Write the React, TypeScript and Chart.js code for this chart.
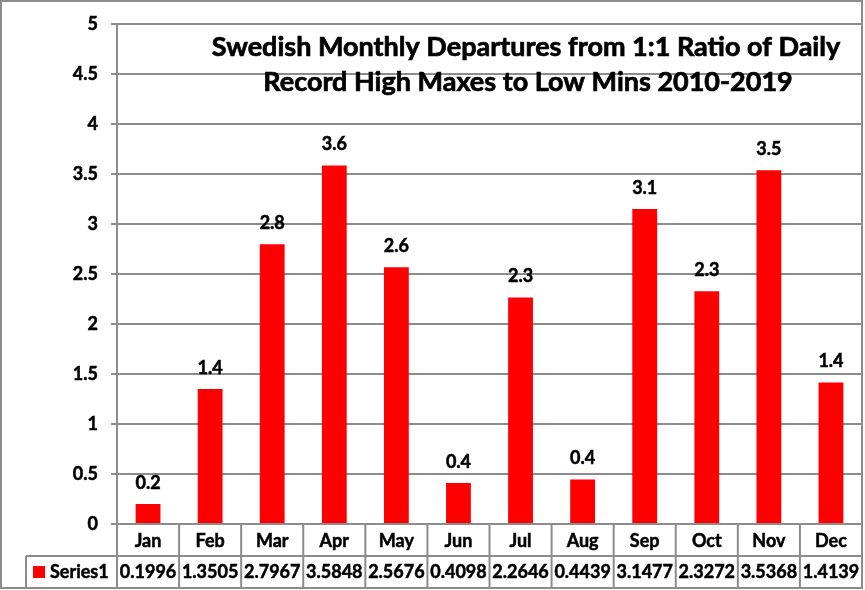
import { useEffect, useRef } from "react";
import { Chart, registerables } from "chart.js";

Chart.register(...registerables);

const months = ["Jan", "Feb", "Mar", "Apr", "May", "Jun", "Jul", "Aug", "Sep", "Oct", "Nov", "Dec"];
const departures = [0.1996, 1.3505, 2.7967, 3.5848, 2.5676, 0.4098, 2.2646, 0.4439, 3.1477, 2.3272, 3.5368, 1.4139];
const seriesName = "Series1";
const titleLines = [
  "Swedish Monthly Departures from 1:1 Ratio of Daily",
  "Record High Maxes to Low Mins 2010-2019",
];

const FONT = "Lato, 'Open Sans', sans-serif";
const GRID = "#8c8c8c";
const BAR = "#ff0000";
const TXT = 18;

// lato bold is a bit thin next to calibri bold, so thicken with a hairline stroke
function boldText(ctx: CanvasRenderingContext2D, s: string, x: number, y: number, w = 0.5) {
  ctx.lineWidth = w;
  ctx.strokeStyle = ctx.fillStyle as string;
  ctx.strokeText(s, x, y);
  ctx.fillText(s, x, y);
}

// value labels above each bar, rounded to one decimal
const barLabels = {
  id: "barLabels",
  afterDatasetsDraw(chart: any) {
    const { ctx } = chart;
    const meta = chart.getDatasetMeta(0);
    ctx.save();
    ctx.font = `bold ${TXT}px ${FONT}`;
    ctx.fillStyle = "#000";
    ctx.textAlign = "center";
    ctx.textBaseline = "middle";
    meta.data.forEach((bar: any, i: number) => {
      boldText(ctx, departures[i].toFixed(1), bar.x, bar.y - 21);
    });
    ctx.restore();
  },
};

// title sits inside the plot area, like the excel original
const insideTitle = {
  id: "insideTitle",
  afterDraw(chart: any) {
    const { ctx } = chart;
    ctx.save();
    ctx.font = `bold 27px ${FONT}`;
    ctx.fillStyle = "#000";
    ctx.textAlign = "center";
    ctx.textBaseline = "alphabetic";
    boldText(ctx, titleLines[0], 526, 56, 0.7);
    boldText(ctx, titleLines[1], 528, 91, 0.7);
    ctx.restore();
  },
};

// data table under the x axis + outer border
const dataTable = {
  id: "dataTable",
  afterDraw(chart: any) {
    const { ctx, chartArea: a } = chart;
    const x = chart.scales.x;
    const y = chart.scales.y;
    const rowH = 32;
    const row1 = a.bottom + rowH;
    const row2 = row1 + rowH;
    const legendLeft = 26;
    const half = (x.getPixelForValue(1) - x.getPixelForValue(0)) / 2;

    ctx.save();
    ctx.strokeStyle = GRID;
    ctx.lineWidth = 2;
    ctx.beginPath();
    ctx.moveTo(a.left, a.bottom);
    ctx.lineTo(a.right, a.bottom);
    ctx.moveTo(legendLeft, row1);
    ctx.lineTo(a.right, row1);
    ctx.moveTo(legendLeft, row2);
    ctx.lineTo(a.right, row2);
    months.forEach((_, i) => {
      const px = x.getPixelForValue(i) - half;
      ctx.moveTo(px, a.bottom);
      ctx.lineTo(px, row2);
    });
    ctx.moveTo(a.right, a.top);
    ctx.lineTo(a.right, row2);
    ctx.moveTo(legendLeft, row1);
    ctx.lineTo(legendLeft, row2);
    ctx.stroke();
    ctx.strokeRect(1, 1, a.right - 1, row2 - 1);

    ctx.font = `bold ${TXT}px ${FONT}`;
    ctx.fillStyle = "#000";
    ctx.textAlign = "center";
    ctx.textBaseline = "middle";
    months.forEach((m, i) => {
      const px = x.getPixelForValue(i);
      boldText(ctx, m, px, a.bottom + rowH / 2 + 1);
      boldText(ctx, departures[i].toFixed(4), px, row1 + rowH / 2);
    });

    ctx.fillStyle = BAR;
    ctx.fillRect(33, row1 + 10, 12, 12);
    ctx.fillStyle = "#000";
    ctx.textAlign = "left";
    boldText(ctx, seriesName, 50, row1 + rowH / 2);

    // y tick labels, drawn here so they get the same weight
    ctx.textAlign = "right";
    y.ticks.forEach((t: any) => {
      boldText(ctx, String(t.value), a.left - 19, y.getPixelForValue(t.value));
    });
    ctx.restore();
  },
};

export default function App() {
  const canvasRef = useRef<HTMLCanvasElement>(null);

  useEffect(() => {
    const chart = new Chart(canvasRef.current!, {
      type: "bar",
      data: {
        labels: months,
        datasets: [
          {
            label: seriesName,
            data: departures,
            backgroundColor: BAR,
            barPercentage: 0.4,
            categoryPercentage: 1,
          },
        ],
      },
      options: {
        animation: false,
        responsive: false,
        layout: { padding: { top: 14, bottom: 66, right: 3, left: 0 } },
        plugins: {
          legend: { display: false },
          tooltip: { enabled: false },
          title: { display: false },
        },
        scales: {
          x: { display: false },
          y: {
            min: 0,
            max: 5,
            ticks: {
              stepSize: 0.5,
              color: "rgba(0,0,0,0)",
              padding: 13,
              font: { family: FONT, size: TXT, weight: "bold" },
              callback: (v: any) => String(Number(v)),
            },
            grid: { color: GRID, lineWidth: 2, tickLength: 6, tickColor: GRID },
            border: { color: GRID, width: 2 },
            afterFit(scale: any) {
              scale.width = 117;
            },
          },
        },
      },
      plugins: [barLabels, insideTitle, dataTable],
    });
    return () => chart.destroy();
  }, []);

  return (
    <div style={{ position: "absolute", left: 0, top: 0, width: 865, height: 590, background: "#fff" }}>
      <canvas ref={canvasRef} width={865} height={590}></canvas>
    </div>
  );
}
